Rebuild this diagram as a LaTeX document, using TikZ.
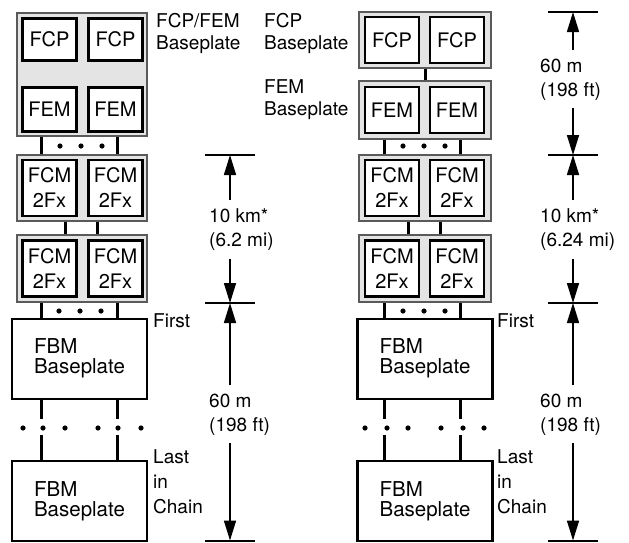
\documentclass[tikz,border=0pt]{standalone}
\usepackage{fontspec}
\setmainfont{TeX Gyre Heros}
\usepackage{tikz}
\usetikzlibrary{arrows.meta,calc}
\definecolor{plategray}{HTML}{E4E4E4}
\definecolor{plateedge}{HTML}{5A5A5A}

\begin{document}
\begin{tikzpicture}[x=1pt,y=-1pt,
  plate/.style={draw=plateedge,fill=plategray,line width=2pt,inner sep=0pt},
  unit/.style={draw,fill=white,line width=2.4pt,minimum width=54pt,inner sep=0pt,align=center,font=\fontsize{20}{25}\selectfont},
  fbm/.style={draw,fill=white,line width=2.2pt,minimum width=135pt,minimum height=80pt,align=left,font=\fontsize{20.5}{20}\selectfont},
  bus/.style={draw=black,line width=3pt},
  lbl/.style={anchor=north west,inner sep=0pt,align=left,font=\fontsize{19}{22}\selectfont},
  dimlbl/.style={anchor=north west,inner xsep=0pt,inner ysep=8pt,align=left,font=\fontsize{19}{24}\selectfont},
  tick/.style={line width=2pt},
  dim/.style={line width=1.6pt,-{Triangle[length=20pt,width=12pt]}}]
  \useasboundingbox (0,0) rectangle (629,542);

  % left chain
  \node[plate,minimum width=130pt,minimum height=123.5pt] (lcpfe) at (81.5,74.25) {};
  \node[unit,minimum height=42pt] (lfcpA) at (49.5,39.5) {FCP};
  \node[unit,minimum height=42pt] (lfcpB) at (115.5,39.5) {FCP};
  \node[unit,minimum height=44pt] (lfemA) at (49.5,109.5) {FEM};
  \node[unit,minimum height=44pt] (lfemB) at (115.5,109.5) {FEM};
  \node[plate,minimum width=130pt,minimum height=66pt] (lfcmP) at (81.5,188) {};
  \node[unit,minimum height=56pt] (lfcmA) at (49.5,188) {FCM\\2Fx};
  \node[unit,minimum height=56pt] (lfcmB) at (115.5,188) {FCM\\2Fx};
  \node[plate,minimum width=130pt,minimum height=67pt] (lfcmQ) at (81.5,268.5) {};
  \node[unit,minimum height=56pt] (lfcmC) at (49.5,268.5) {FCM\\2Fx};
  \node[unit,minimum height=56pt] (lfcmD) at (115.5,268.5) {FCM\\2Fx};
  \node[fbm] (lfbmA) at (79.5,358.75) {FBM\\Baseplate};
  \node[fbm] (lfbmB) at (79.5,501) {FBM\\Baseplate};

  \coordinate (gapT) at (0,419);
  \coordinate (gapB) at (0,435);

  \foreach \xb in {41,117} {
    \draw[bus] (\xb,0 |- lcpfe.south) -- (\xb,0 |- lfcmP.north);
    \draw[bus] (\xb,0 |- lfcmQ.south) -- (\xb,0 |- lfbmA.north);
    \draw[bus] (\xb,0 |- lfbmA.south) -- (\xb,0 |- gapT);
    \draw[bus] (\xb,0 |- gapB) -- (\xb,0 |- lfbmB.north);
  }
  \foreach \xb in {65.5,97.5}
    \draw[bus] (\xb,0 |- lfcmP.south) -- (\xb,0 |- lfcmQ.north);
  \foreach \x in {60,81,102} {
    \fill (\x,146) circle (2.6pt);
    \fill (\x-1,311) circle (2.6pt);
  }
  \foreach \x in {23,43,65,98,118,141}
    \fill (\x,428) circle (2.6pt);

  % right chain
  \node[plate,minimum width=132pt,minimum height=56pt] (rfcp) at (425,40) {};
  \node[unit,minimum height=46pt] (rfcpA) at (392,40) {FCP};
  \node[unit,minimum height=46pt] (rfcpB) at (457,40) {FCP};
  \node[plate,minimum width=132pt,minimum height=58pt] (rfem) at (425,110) {};
  \node[unit,minimum height=46pt] (rfemA) at (392,110) {FEM};
  \node[unit,minimum height=46pt] (rfemB) at (457,110) {FEM};
  \node[plate,minimum width=132pt,minimum height=66pt] (rfcmP) at (425,188) {};
  \node[unit,minimum height=56pt] (rfcmA) at (392,188) {FCM\\2Fx};
  \node[unit,minimum height=56pt] (rfcmB) at (457,188) {FCM\\2Fx};
  \node[plate,minimum width=132pt,minimum height=67pt] (rfcmQ) at (425,268.5) {};
  \node[unit,minimum height=56pt] (rfcmC) at (392,268.5) {FCM\\2Fx};
  \node[unit,minimum height=56pt] (rfcmD) at (457,268.5) {FCM\\2Fx};
  \node[fbm] (rfbmA) at (425,358.75) {FBM\\Baseplate};
  \node[fbm] (rfbmB) at (425,501) {FBM\\Baseplate};

  \draw[bus] (rfcp) -- (rfem);
  \foreach \xb in {384,460} {
    \draw[bus] (\xb,0 |- rfem.south) -- (\xb,0 |- rfcmP.north);
    \draw[bus] (\xb,0 |- rfcmQ.south) -- (\xb,0 |- rfbmA.north);
    \draw[bus] (\xb,0 |- rfbmA.south) -- (\xb,0 |- gapT);
    \draw[bus] (\xb,0 |- gapB) -- (\xb,0 |- rfbmB.north);
  }
  \foreach \xb in {408,440}
    \draw[bus] (\xb,0 |- rfcmP.south) -- (\xb,0 |- rfcmQ.north);
  \foreach \x in {403,424,445} {
    \fill (\x,146) circle (2.6pt);
    \fill (\x,311) circle (2.6pt);
  }
  \foreach \x in {365,387,408,441,463,484}
    \fill (\x,428) circle (2.6pt);

  % side labels
  \node[lbl] (lblCpfe) at (156,13.3) {FCP/FEM\\Baseplate};
  \node[lbl] (lblFcp) at (264,13.3) {FCP\\Baseplate};
  \node[lbl] (lblFem) at (264,79.3) {FEM\\Baseplate};
  \node[lbl] (lblFirstL) at (153,313.3) {First};
  \node[lbl,font=\fontsize{19}{25}\selectfont] (lblLastL) at (153,449.3) {Last\\in\\Chain};
  \node[lbl] (lblFirstR) at (497,313.3) {First};
  \node[lbl,font=\fontsize{19}{25}\selectfont] (lblLastR) at (497,449.3) {Last\\in\\Chain};

  % left dimensions
  \coordinate (ltA) at (230,155);
  \coordinate (ltB) at (230,303);
  \coordinate (ltC) at (230,540.5);
  \foreach \t in {ltA,ltB,ltC}
    \draw[tick] ([xshift=-25pt]\t) -- ([xshift=25pt]\t);
  \node[dimlbl] (ldA) at (209,200.4) {10 km*\\(6.2 mi)};
  \node[dimlbl] (ldB) at (209,385.4) {60 m\\(198 ft)};
  \draw[dim] (ldA.north -| ltA) -- (ltA);
  \draw[dim] (ldA.south -| ltB) -- (ltB);
  \draw[dim] (ldB.north -| ltB) -- (ltB);
  \draw[dim] (ldB.south -| ltC) -- (ltC);

  % right dimensions
  \coordinate (rtO) at (573,12);
  \coordinate (rtA) at (573,155);
  \coordinate (rtB) at (573,303);
  \coordinate (rtC) at (573,540.5);
  \foreach \t in {rtO,rtA,rtB,rtC}
    \draw[tick] ([xshift=-25pt]\t) -- ([xshift=25pt]\t);
  \node[dimlbl] (rdO) at (540,50.4) {60 m\\(198 ft)};
  \node[dimlbl] (rdA) at (540,200.4) {10 km*\\(6.24 mi)};
  \node[dimlbl] (rdB) at (540,385.4) {60 m\\(198 ft)};
  \draw[dim] (rdO.north -| rtO) -- (rtO);
  \draw[dim] (rdO.south -| rtA) -- (rtA);
  \draw[dim] (rdA.north -| rtA) -- (rtA);
  \draw[dim] (rdA.south -| rtB) -- (rtB);
  \draw[dim] (rdB.north -| rtB) -- (rtB);
  \draw[dim] (rdB.south -| rtC) -- (rtC);
\end{tikzpicture}
\end{document}
